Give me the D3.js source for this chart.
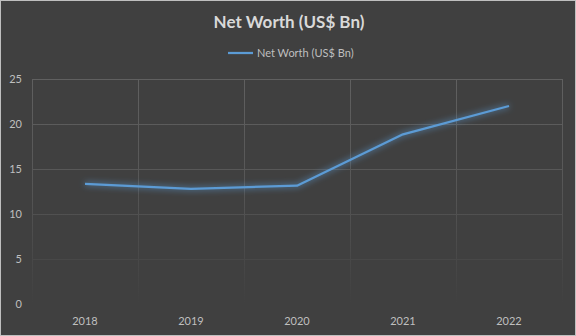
<!DOCTYPE html>
<html>
<head>
<meta charset="utf-8">
<script src="https://cdn.jsdelivr.net/npm/d3@7"></script>
<style>
  html, body { margin: 0; padding: 0; background: #404040; }
  svg { display: block; }
</style>
</head>
<body>
<svg id="chart" width="576" height="336"></svg>
<script>
// Net worth by year, US$ billions
const years = ["2018", "2019", "2020", "2021", "2022"];
const netWorth = [13.35, 12.8, 13.15, 18.85, 22.0];
const yTicks = [0, 5, 10, 15, 20, 25];
const seriesName = "Net Worth (US$ Bn)";

const W = 576, H = 336;
const margin = { left: 32, right: 14, top: 79, bottom: 32 };
const font = "Lato, 'Open Sans', sans-serif";

const svg = d3.select("#chart");

svg.append("rect").attr("x", 0.5).attr("y", 0.5)
  .attr("width", W - 1).attr("height", H - 1)
  .attr("fill", "#404040").attr("stroke", "#bfbfbf");

const x = d3.scaleBand().domain(years)
  .range([margin.left, W - margin.right]).padding(0);
const y = d3.scaleLinear().domain([0, 25])
  .range([H - margin.bottom, margin.top]);

const defs = svg.append("defs");

// gridlines fade out towards the bottom of the plot
const grad = defs.append("linearGradient").attr("id", "gridFade")
  .attr("gradientUnits", "userSpaceOnUse")
  .attr("x1", 0).attr("x2", 0).attr("y1", y(25)).attr("y2", y(0));
grad.append("stop").attr("offset", 0).attr("stop-color", "#606060");
grad.append("stop").attr("offset", 0.45).attr("stop-color", "#575757");
grad.append("stop").attr("offset", 1).attr("stop-color", "#404040");

// glow filter for the line
const f = defs.append("filter").attr("id", "glow")
  .attr("x", "-20%").attr("y", "-50%").attr("width", "140%").attr("height", "200%");
f.append("feGaussianBlur").attr("in", "SourceGraphic").attr("stdDeviation", 3).attr("result", "b");
f.append("feMerge").selectAll("feMergeNode").data(["b", "SourceGraphic"]).join("feMergeNode").attr("in", d => d);

// horizontal gridlines, drawn in the root coordinate space so the fade applies per line
const xr = x.range();
svg.append("g").selectAll("line").data(yTicks).join("line")
  .attr("x1", xr[0]).attr("x2", xr[1])
  .attr("y1", d => Math.round(y(d)) + 0.5).attr("y2", d => Math.round(y(d)) + 0.5)
  .attr("stroke", "url(#gridFade)");

// vertical gridlines at category boundaries
const bounds = years.map(d => x(d)).concat([x(years[years.length - 1]) + x.bandwidth()]);
svg.append("g").selectAll("line").data(bounds).join("line")
  .attr("x1", d => Math.round(d) + 0.5).attr("x2", d => Math.round(d) + 0.5)
  .attr("y1", y(25)).attr("y2", y(0))
  .attr("stroke", "url(#gridFade)");

// y tick labels
svg.append("g").selectAll("text").data(yTicks).join("text")
  .attr("x", 22).attr("y", d => y(d) + 4)
  .attr("text-anchor", "end")
  .attr("font-family", font).attr("font-size", 11)
  .attr("fill", "#bfbfbf")
  .text(d => d);

// x tick labels
svg.append("g").selectAll("text").data(years).join("text")
  .attr("x", d => x(d) + x.bandwidth() / 2).attr("y", 325)
  .attr("text-anchor", "middle")
  .attr("font-family", font).attr("font-size", 11)
  .attr("fill", "#bfbfbf")
  .text(d => d);

// line
const line = d3.line()
  .x((d, i) => x(years[i]) + x.bandwidth() / 2)
  .y(d => y(d));
svg.append("path").datum(netWorth)
  .attr("d", line)
  .attr("fill", "none")
  .attr("stroke", "#5b9bd5")
  .attr("stroke-width", 2.25)
  .attr("stroke-linejoin", "round")
  .attr("filter", "url(#glow)");

// title
svg.append("text")
  .attr("x", 289).attr("y", 28)
  .attr("text-anchor", "middle")
  .attr("font-family", font).attr("font-size", 17).attr("font-weight", "bold")
  .attr("fill", "#d9d9d9")
  .text(seriesName);

// legend
const lg = svg.append("g");
lg.append("line").attr("x1", 228).attr("x2", 253).attr("y1", 53).attr("y2", 53)
  .attr("stroke", "#5b9bd5").attr("stroke-width", 2.25);
lg.append("text").attr("x", 257).attr("y", 57)
  .attr("font-family", font).attr("font-size", 11)
  .attr("fill", "#bfbfbf")
  .text(seriesName);
</script>
</body>
</html>
